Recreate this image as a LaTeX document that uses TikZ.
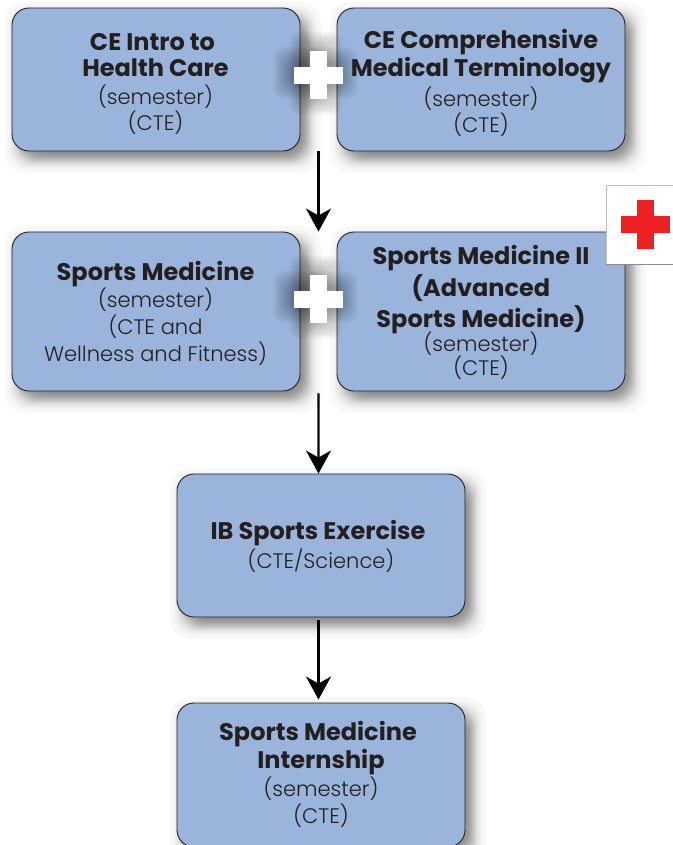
\documentclass[tikz,border=0pt]{standalone}
\usepackage{fontspec}
\setmainfont{Poppins Light}[BoldFont=Poppins Bold]
\usetikzlibrary{calc,arrows.meta}
\definecolor{boxblue}{HTML}{9BB4DC}
\definecolor{ink}{HTML}{231F20}
\definecolor{crossred}{HTML}{ED2024}
\newcommand{\bt}[1]{{\fontsize{24bp}{26bp}\selectfont\bfseries #1}}
\tikzset{
  x=1bp,y=-1bp,
  boxn/.style={draw=ink,line width=0.9bp,fill=boxblue,rounded corners=17bp,inner sep=0pt,minimum width=288bp},
  txt/.style={text=ink,align=center,inner sep=0pt,font=\fontsize{21bp}{26bp}\selectfont},
  flow/.style={line width=2.2bp,black,-{Stealth[length=23bp,width=25bp,inset=7bp]},shorten >=0pt},
}
\newcommand{\softshadow}[4]{%
  \foreach \i in {0,...,23}{%
    \pgfmathsetmacro{\t}{(\i+0.5)/24}
    \pgfmathsetmacro{\d}{3.6*ln((1-\t)/\t)}
    \fill[black,opacity=0.027,rounded corners=20bp]
      ({#1+7-\d},{#2+8-\d}) rectangle ({#3+7+\d},{#4+8+\d});
  }}
\newcommand{\whiteplus}[3]{%
  \foreach \i in {0,...,19}{%
    \pgfmathsetmacro{\d}{18-\i*0.9}
    \fill[black,opacity=0.016,rounded corners=10bp] ({#2-24-\d-3},{#3-8.5-\d-2}) rectangle ({#2+24+\d-3},{#3+8.5+\d-2});
    \fill[black,opacity=0.016,rounded corners=10bp] ({#2-8.5-\d-3},{#3-24-\d-2}) rectangle ({#2+8.5+\d-3},{#3+24+\d-2});
  }
  \node[fill=white,minimum width=48.5bp,minimum height=17bp,inner sep=0pt] (#1h) at (#2,#3) {};
  \node[fill=white,minimum width=17bp,minimum height=48.5bp,inner sep=0pt] (#1v) at (#2,#3) {};
}
\begin{document}
\begin{tikzpicture}
\useasboundingbox (0,0) rectangle (673,845);
\begin{scope}
\clip (0,0) rectangle (673,845);
% boxes
\softshadow{12}{8}{300}{151}
\node[boxn,minimum height=143bp] (A) at (156,79.5) {};
\softshadow{337}{8}{625}{151}
\node[boxn,minimum height=143bp] (B) at (481,79.5) {};
\softshadow{12}{232}{300}{391}
\node[boxn,minimum height=159bp] (C) at (156,311.5) {};
\softshadow{337}{232}{625}{391}
\node[boxn,minimum height=159bp] (D) at (481,311.5) {};
\softshadow{177}{474}{465}{617}
\node[boxn,minimum height=143bp] (E) at (321,545.5) {};
\softshadow{177}{703}{465}{847}
\node[boxn,minimum height=144bp] (F) at (321,775) {};
% plus signs
\whiteplus{p1}{318.5}{75}
\whiteplus{p2}{318.5}{299}
% texts
\node[txt] (At) at (155.5,84) {\bt{CE Intro to}\hspace*{6bp}\\\bt{Health Care}\hspace*{6bp}\\[2bp](semester)\\(CTE)};
\node[txt] (Bt) at (481,82.5) {\bt{CE Comprehensive}\\[2bp]\bt{Medical Terminology}\\[2.5bp](semester)\\(CTE)};
\node[txt] (Ct) at (155.5,313.5) {\bt{Sports Medicine}\\[1bp](semester)\\[1bp](CTE and\\[1bp]Wellness and Fitness)};
\node[txt] (Dt) at (481,312) {\bt{Sports Medicine II}\\[3bp]\bt{(Advanced}\\[3bp]\bt{Sports Medicine)}\\[-2bp](semester)\\[-2bp](CTE)};
\node[txt] (Et) at (321,546) {\bt{IB Sports Exercise}\hspace*{6bp}\\[2bp](CTE/Science)};
\node[txt] (Ft) at (321,774.5) {\bt{Sports Medicine}\hspace*{6bp}\\[2bp]\bt{Internship}\hspace*{6bp}\\[2bp](semester)\\[1bp](CTE)};
% connectors
\coordinate (s1) at ($(A.south east)!0.5!(B.south west)$);
\coordinate (t1) at ($(C.north east)!0.5!(D.north west)$);
\coordinate (s2) at ($(C.south east)!0.5!(D.south west)+(0,2)$);
\coordinate (t2) at ($(E.north)+(-2.5,0)$);
\coordinate (s3) at ($(E.south)+(-2.5,3)$);
\coordinate (t3) at ($(F.north)+(-2.5,-3)$);
\draw[flow] (s1) -- (t1);
\draw[flow] (s2) -- (t2);
\draw[flow] (s3) -- (t3);
% red cross card
\node[draw=black!25,line width=1bp,fill=white,minimum width=80bp,minimum height=79bp,inner sep=0pt,anchor=north west] (card) at (605.5,184.5) {};
\draw[black!45,line width=1bp] (card.south west) -- (card.south east);
\node[fill=crossred,minimum width=49bp,minimum height=16.5bp,inner sep=0pt] (rh) at (645.5,224.5) {};
\node[fill=crossred,minimum width=16.5bp,minimum height=49bp,inner sep=0pt] (rv) at (645.5,224.5) {};
\end{scope}
\end{tikzpicture}
\end{document}
